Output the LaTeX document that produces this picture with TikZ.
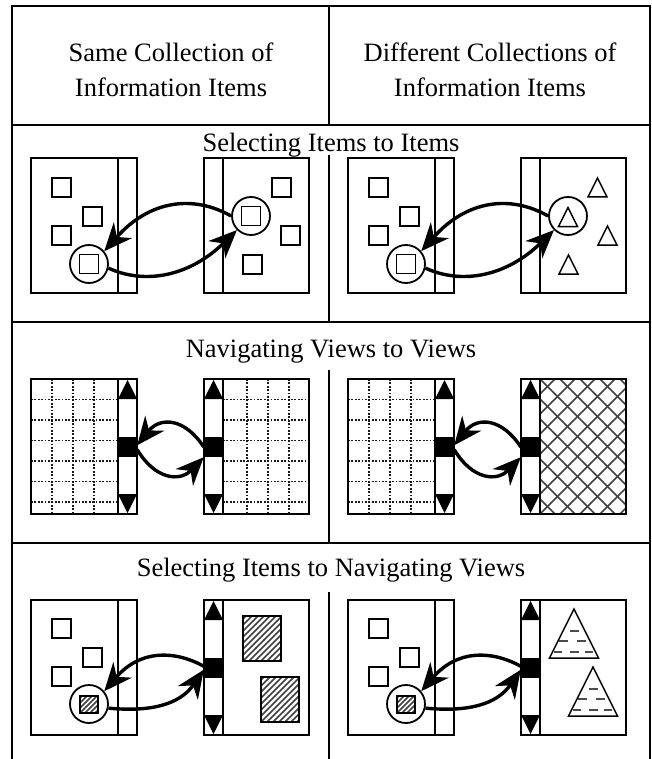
\documentclass[tikz,border=0pt]{standalone}
\usepackage{fontspec}
\setmainfont{Liberation Serif}
\usetikzlibrary{arrows.meta}
\newcommand{\captfont}{\fontsize{26.5pt}{35pt}\selectfont}
% small item square / triangle, (#1,#2) = top left corner
\newcommand{\itembox}[2]{\draw[item] (#1,#2) rectangle ++(19,19);}
\newcommand{\itemtri}[2]{\draw[item] (#1,#2+19) -- ++(19,0) -- ++(-9.5,-19) -- cycle;}
% scroll bar buttons, #1 = left edge, #2 = top, #3 = bottom
\newcommand{\scrollarrows}[3]{%
  \fill (#1,#2+20) -- ++(19,0) -- ++(-9.5,-19) -- cycle;
  \fill (#1,#3-20) -- ++(19,0) -- ++(-9.5,19) -- cycle;}
% big triangle with dashes, (#1,#2) = apex
\newcommand{\bigtri}[2]{%
  \begin{scope}
    \clip (#1,#2) -- (#1+24.5,#2+49) -- (#1-24.5,#2+49) -- cycle;
    \foreach \dy/\xa/\xb in {22/-4/5, 32/-15/-6, 32/3/12, 43/-20/-12, 43/-4/5, 43/11/19}
      \draw[tridash] (#1+\xa,#2+\dy) -- (#1+\xb,#2+\dy);
  \end{scope}
  \draw[item] (#1,#2) -- (#1+24.5,#2+49) -- (#1-24.5,#2+49) -- cycle;}

\begin{document}
\begin{tikzpicture}[x=1pt, y=-1pt,
    frame/.style={line width=2pt},
    win/.style={line width=1.6pt},
    item/.style={line width=1.5pt},
    sel/.style={circle, draw, line width=1.8pt, minimum size=38pt, inner sep=0pt},
    thumb/.style={rectangle, fill=black, minimum width=19pt, minimum height=20pt, inner sep=0pt},
    link/.style={line width=3.4pt, -{Stealth[length=28pt, width=24pt, inset=9pt]}},
    griddot/.style={line width=1.8pt, black!90, dash pattern=on 1.8pt off 1.6pt},
    hatch/.style={line width=1.5pt, black!75},
    tridash/.style={line width=2.4pt, black!70},
    title/.style={font=\captfont, inner sep=0pt}]
  \useasboundingbox (0,0) rectangle (652,759);

  % Frame
  \draw[frame] (12,759) -- (12,6) -- (650,6) -- (650,759);
  \foreach \ry in {125,322,543} \draw[frame] (12,\ry) -- (650,\ry);
  \foreach \ya/\yb in {6/125, 155/322, 370/543, 592/759} \draw[frame] (329,\ya) -- (329,\yb);

  % Headings
  \node[title, align=center] (same) at (171,70) {Same Collection of\\Information Items};
  \node[title, align=center] (diff) at (490,70) {Different Collections of\\Information Items};
  \node[title, anchor=base] (selsel) at (331,152) {Selecting Items to Items};
  \node[title, anchor=base] (navnav) at (331,357) {Navigating Views to Views};
  \node[title, anchor=base] (selnav) at (331,576) {Selecting Items to Navigating Views};

  % Row 1: items to items
  \foreach \col/\dx in {a/0, b/317} {
    \draw[win] (31+\dx,158) rectangle (137+\dx,293);
    \draw[win] (118+\dx,158) -- (118+\dx,293);
    \itembox{52+\dx}{178} \itembox{83+\dx}{207} \itembox{52+\dx}{226}
    \itembox{79.5+\dx}{254.5}
    \node[sel] (src1\col) at (89+\dx,264) {};
    \draw[win] (204+\dx,158) rectangle (309+\dx,293);
    \draw[win] (223+\dx,158) -- (223+\dx,293);
    \node[sel] (dst1\col) at (251+\dx,216) {};
  }
  \itembox{272}{178} \itembox{281}{226} \itembox{243}{255} \itembox{241.5}{206.5}
  \itemtri{588}{178} \itemtri{598}{226} \itemtri{559}{255} \itemtri{558.5}{207.5}
  \foreach \col in {a,b} {
    \draw[link] (dst1\col.west) .. controls +(-37,-21) and +(46,-52) .. (src1\col.40);
    \draw[link] (src1\col.-12) .. controls +(37,17) and +(-47,46) .. (dst1\col.225);
  }

  % Row 2: views to views
  \foreach \col/\dx in {a/0, b/317} {
    \foreach \gx in {52,73,94} \draw[griddot] (\gx+\dx,379) -- (\gx+\dx,514);
    \foreach \gy in {399.5,420,440.5,461,481.5,502} \draw[griddot] (31+\dx,\gy) -- (118+\dx,\gy);
    \draw[win] (31+\dx,379) rectangle (137+\dx,514);
    \draw[win] (118+\dx,379) -- (118+\dx,514);
    \scrollarrows{118+\dx}{379}{514}
    \node[thumb] (from2\col) at (127.5+\dx,447) {};
  }
  % same grid on the right
  \foreach \gx in {247,268,289} \draw[griddot] (\gx,379) -- (\gx,514);
  \foreach \gy in {399.5,420,440.5,461,481.5,502} \draw[griddot] (223,\gy) -- (309,\gy);
  % cross hatch on the right
  \begin{scope}
    \clip (540,379) rectangle (626,514);
    \foreach \c in {400,420,...,620} {
      \draw[hatch] (\c,379) -- ++(140,140);
      \draw[hatch] (\c,514) -- ++(140,-140);
    }
  \end{scope}
  \foreach \col/\dx in {a/0, b/317} {
    \draw[win] (204+\dx,379) rectangle (309+\dx,514);
    \draw[win] (223+\dx,379) -- (223+\dx,514);
    \scrollarrows{204+\dx}{379}{514}
    \node[thumb] (to2\col) at (213.5+\dx,447) {};
    \draw[link] (to2\col.west) .. controls +(-19,-29) and +(23,-29) .. (from2\col.10);
    \draw[link] (from2\col.-15) .. controls +(18,30) and +(-24,25) .. (to2\col.south west);
  }

  % Row 3: items to views
  \foreach \col/\dx in {a/0, b/317} {
    \draw[win] (31+\dx,600) rectangle (137+\dx,735);
    \draw[win] (118+\dx,600) -- (118+\dx,735);
    \itembox{52+\dx}{619} \itembox{83+\dx}{648} \itembox{52+\dx}{667}
    \begin{scope}
      \clip (80+\dx,696) rectangle ++(18,17);
      \foreach \c in {60,65,...,100} \draw[hatch] (\c+\dx,713) -- ++(25,-25);
    \end{scope}
    \draw[item] (80+\dx,696) rectangle ++(18,17);
    \node[sel] (src3\col) at (89+\dx,704) {};
    \draw[win] (204+\dx,600) rectangle (309+\dx,735);
    \draw[win] (223+\dx,600) -- (223+\dx,735);
    \scrollarrows{204+\dx}{600}{735}
    \node[thumb] (to3\col) at (213.5+\dx,668) {};
    \draw[link] (to3\col.170) .. controls +(-29,-16) and +(36,-42) .. (src3\col.40);
    \draw[link] (src3\col.-12) .. controls +(42,4) and +(-24,35) .. (to3\col.190);
  }
  % hatched views
  \begin{scope}
    \clip (243,616) rectangle (281,661);
    \foreach \c in {195,201,...,285} \draw[hatch] (\c,661) -- ++(50,-50);
  \end{scope}
  \draw[item] (243,616) rectangle (281,661);
  \begin{scope}
    \clip (261,677) rectangle (299,722);
    \foreach \c in {213,219,...,303} \draw[hatch] (\c,722) -- ++(50,-50);
  \end{scope}
  \draw[item] (261,677) rectangle (299,722);
  % dashed triangles
  \bigtri{574}{609}
  \bigtri{593}{667}
\end{tikzpicture}
\end{document}
